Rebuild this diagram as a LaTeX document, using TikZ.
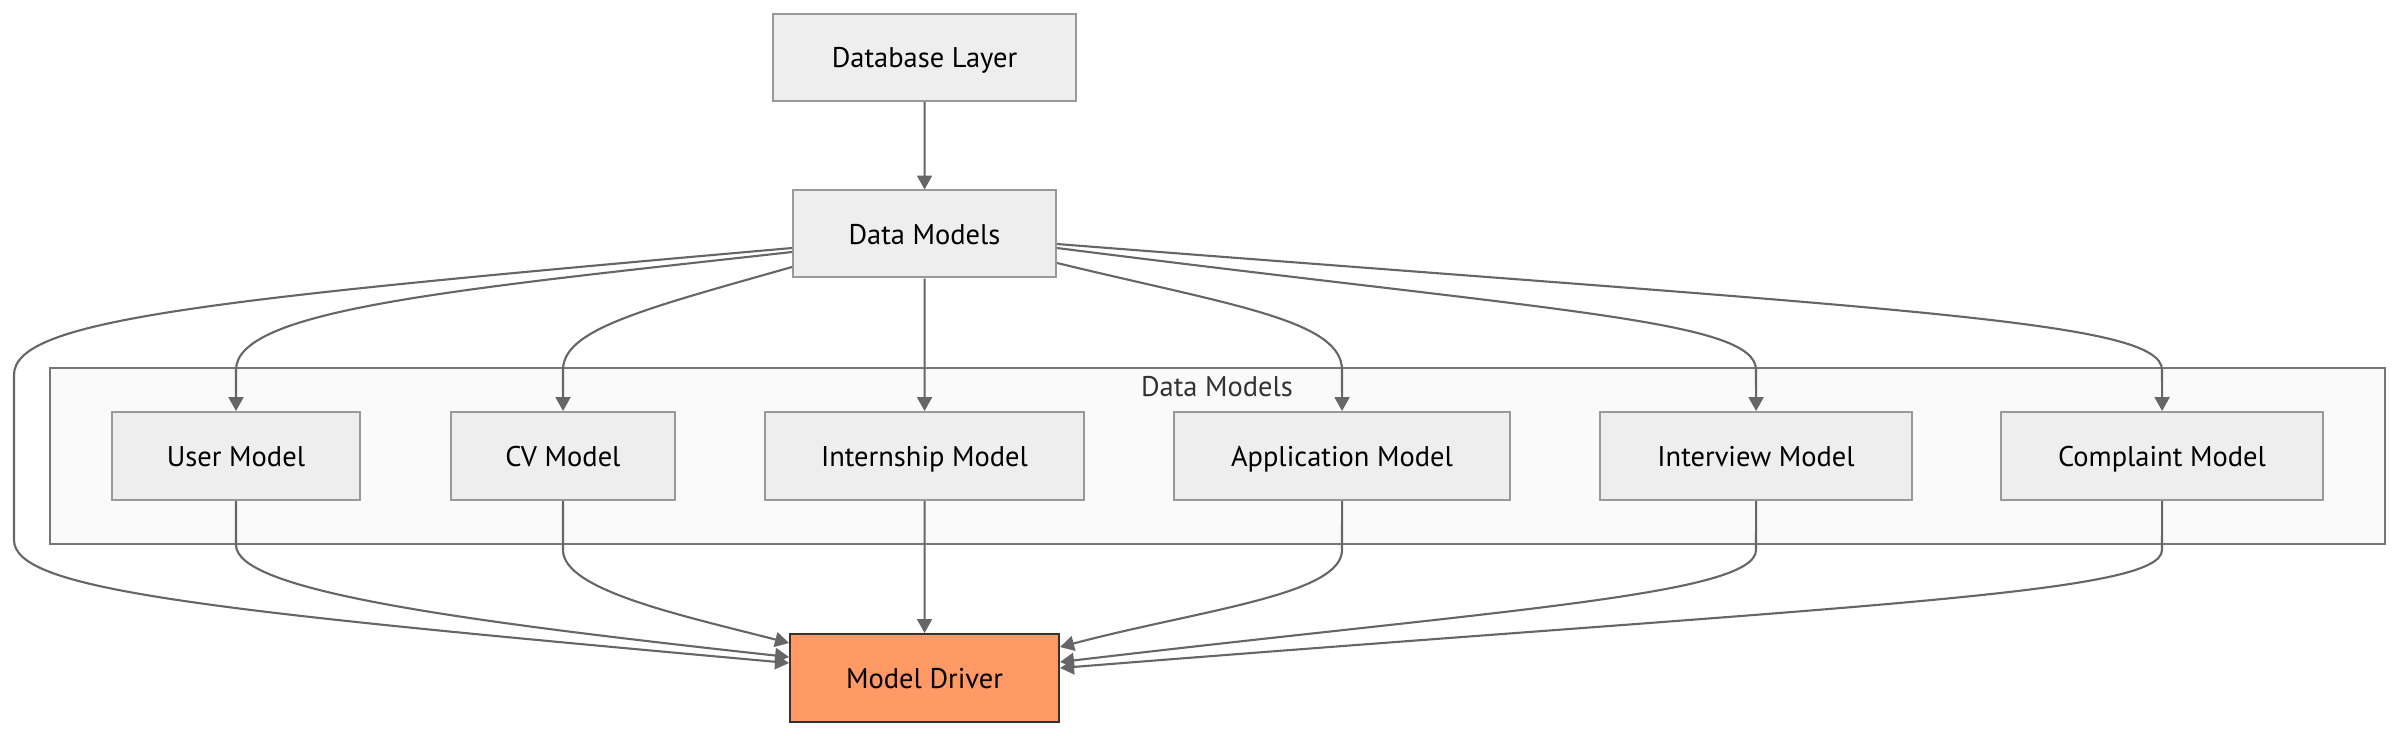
\documentclass[tikz,border=0pt]{standalone}
\usepackage{fontspec}
\setmainfont{PT Sans}
\usetikzlibrary{arrows.meta,calc}
\definecolor{boxfill}{HTML}{EEEEEE}
\definecolor{boxline}{HTML}{999999}
\definecolor{edgeline}{HTML}{666666}
\definecolor{groupfill}{HTML}{FAFAFA}
\definecolor{groupline}{HTML}{777777}
\definecolor{driverfill}{HTML}{FF9966}
\definecolor{driverline}{HTML}{333333}
\tikzset{
  model/.style={draw=boxline, fill=boxfill, line width=0.57pt, inner sep=0pt,
    minimum height=8.7mm, text height=1.6ex, text depth=0.45ex,
    font=\fontsize{8.1}{9.5}\selectfont},
  link/.style={draw=edgeline, line width=0.6pt,
    -{Triangle[length=1.4mm, width=1.5mm]}}
}
\begin{document}
\begin{tikzpicture}[scale=0.1]
    \useasboundingbox (0,0) rectangle (240,-73.6);
    % group frame
    \draw [groupline, fill=groupfill, line width=0.57pt] (5.0,-36.8) rectangle (238.5,-54.4);
    \node (grouplabel) [text=driverline, font=\fontsize{8.1}{9.5}\selectfont] at (121.7,-38.7) {Data Models};
    % boxes
    \node (db) [model, minimum width=30.3mm] at (92.45,-5.75) {Database Layer};
    \node (dm) [model, minimum width=26.3mm] at (92.45,-23.4) {Data Models};
    \node (user) [model, minimum width=24.9mm, minimum height=8.8mm] at (23.6,-45.6) {User Model};
    \node (cv) [model, minimum width=22.5mm, minimum height=8.8mm] at (56.3,-45.6) {CV Model};
    \node (intern) [model, minimum width=32.0mm, minimum height=8.8mm] at (92.45,-45.6) {Internship Model};
    \node (app) [model, minimum width=33.6mm, minimum height=8.8mm] at (134.2,-45.6) {Application Model};
    \node (interview) [model, minimum width=31.2mm, minimum height=8.8mm] at (175.6,-45.6) {Interview Model};
    \node (complaint) [model, minimum width=32.2mm, minimum height=8.8mm] at (216.2,-45.6) {Complaint Model};
    \node (md) [model, draw=driverline, fill=driverfill, minimum width=26.9mm, minimum height=8.8mm] at (92.45,-67.8) {Model Driver};
    % straight links
    \draw [link] (db) -- (dm);
    \draw [link] (dm) -- (intern);
    \draw [link] (intern) -- (md);
    % from the data models box
    \draw [link] ($(dm.west)+(0,-1.4)$) .. controls (20,-30) and (1.4,-32) .. (1.4,-37.5)
        -- (1.4,-54) .. controls (1.4,-59) and (20,-61) .. ($(md.west)+(0,1.5)$);
    \draw [link] ($(dm.west)+(0,-1.8)$) .. controls (45,-29) and (23.6,-31) .. (23.6,-37) -- (user.north);
    \draw [link] ($(dm.west)+(0,-3.3)$) .. controls (64,-31) and (56.3,-33) .. (56.3,-37) -- (cv.north);
    \draw [link] ($(dm.east)+(0,-2.9)$) .. controls (123,-30.5) and (134.2,-32) .. (134.2,-37) -- (app.north);
    \draw [link] ($(dm.east)+(0,-1.4)$) .. controls (156,-31.2) and (175.6,-32) .. (175.6,-37) -- (interview.north);
    \draw [link] ($(dm.east)+(0,-1.0)$) .. controls (190,-31) and (216.2,-32) .. (216.2,-37) -- (complaint.north);
    % into the model driver
    \draw [link] (user.south) -- (23.6,-54.5) .. controls (23.6,-59) and (45,-62) .. ($(md.west)+(0,2.1)$);
    \draw [link] (cv.south) -- (56.3,-55) .. controls (56.3,-59) and (68,-61.5) .. ($(md.west)+(0,3.5)$);
    \draw [link] (app.south) -- (134.2,-55) .. controls (134.2,-59.5) and (120,-61) .. ($(md.east)+(0,3.1)$);
    \draw [link] (interview.south) -- (175.6,-55) .. controls (175.6,-59.5) and (150,-61) .. ($(md.east)+(0,1.6)$);
    \draw [link] (complaint.south) -- (216.2,-55) .. controls (216.2,-59.5) and (185,-60.5) .. ($(md.east)+(0,1.0)$);
\end{tikzpicture}
\end{document}
